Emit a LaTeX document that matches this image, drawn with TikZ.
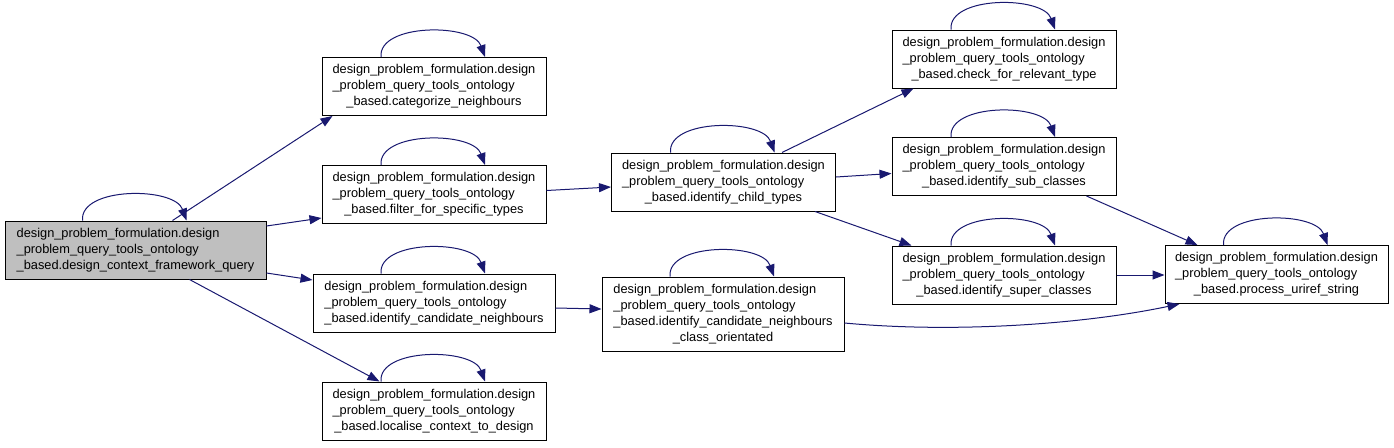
\documentclass[tikz,border=0pt]{standalone}
\usepackage{fontspec}
\setmainfont{Liberation Sans}
\usetikzlibrary{arrows.meta}
\definecolor{edgeblue}{RGB}{25,25,112}
\definecolor{rootgray}{RGB}{191,191,191}
\newcommand\threelines[3]{\begin{tabular}{@{}l@{}}#1\\#2\\\multicolumn{1}{@{}c@{}}{#3}\end{tabular}}
\newcommand\fourlines[4]{\begin{tabular}{@{}l@{}}#1\\#2\\#3\\\multicolumn{1}{@{}c@{}}{#4}\end{tabular}}
\newcommand\myloop[1]{\draw[edge] ([xshift=-53pt]#1.north) .. controls +(-3pt,34pt) and +(-12pt,34pt) .. ([xshift=51pt]#1.north);}
\tikzset{
  box/.style={draw=black, line width=1pt, inner sep=0pt, fill=white,
    minimum width=224pt, minimum height=58pt, anchor=center,
    font=\fontsize{12.8}{16}\selectfont, text=black},
  rootbox/.style={box, fill=rootgray, minimum width=261pt},
  edge/.style={draw=edgeblue, line width=1pt, -{Triangle[length=12pt,width=9pt]}}
}
\begin{document}
\begin{tikzpicture}[x=1pt,y=1pt]
\useasboundingbox (0,0) rectangle (1394,-447);
\node[rootbox] (root) at (135.5,-250) {\threelines{design\_problem\_formulation.design}{\_problem\_query\_tools\_ontology}{\_based.design\_context\_framework\_query}};
\node[box] (cat) at (434,-86.5) {\threelines{design\_problem\_formulation.design}{\_problem\_query\_tools\_ontology}{\_based.categorize\_neighbours}};
\node[box] (filter) at (434,-194.5) {\threelines{design\_problem\_formulation.design}{\_problem\_query\_tools\_ontology}{\_based.filter\_for\_specific\_types}};
\node[box, minimum width=242pt] (cand) at (434,-303) {\threelines{design\_problem\_formulation.design}{\_problem\_query\_tools\_ontology}{\_based.identify\_candidate\_neighbours}};
\node[box] (local) at (434,-411) {\threelines{design\_problem\_formulation.design}{\_problem\_query\_tools\_ontology}{\_based.localise\_context\_to\_design}};
\node[box] (child) at (723.5,-182) {\threelines{design\_problem\_formulation.design}{\_problem\_query\_tools\_ontology}{\_based.identify\_child\_types}};
\node[box, minimum width=242pt, minimum height=74pt] (classo) at (723,-314) {\fourlines{design\_problem\_formulation.design}{\_problem\_query\_tools\_ontology}{\_based.identify\_candidate\_neighbours}{\_class\_orientated}};
\node[box] (check) at (1004,-59) {\threelines{design\_problem\_formulation.design}{\_problem\_query\_tools\_ontology}{\_based.check\_for\_relevant\_type}};
\node[box] (sub) at (1004,-166.5) {\threelines{design\_problem\_formulation.design}{\_problem\_query\_tools\_ontology}{\_based.identify\_sub\_classes}};
\node[box] (super) at (1004,-275) {\threelines{design\_problem\_formulation.design}{\_problem\_query\_tools\_ontology}{\_based.identify\_super\_classes}};
\node[box, minimum width=223pt] (process) at (1276.5,-274.5) {\threelines{design\_problem\_formulation.design}{\_problem\_query\_tools\_ontology}{\_based.process\_uriref\_string}};
% self loops
\myloop{root}
\myloop{cat}
\myloop{filter}
\myloop{cand}
\myloop{local}
\myloop{child}
\myloop{classo}
\myloop{check}
\myloop{sub}
\myloop{super}
\myloop{process}
% edges
\draw[edge] ([xshift=168pt]root.north west) -- ([xshift=11pt]cat.south west);
\draw[edge] ([yshift=24pt]root.east) -- ([yshift=-23.5pt]filter.west);
\draw[edge] ([yshift=-23pt]root.east) -- ([yshift=23pt]cand.west);
\draw[edge] ([xshift=185pt]root.south west) -- ([xshift=58pt]local.north west);
\draw[edge] ([yshift=4pt]filter.east) -- ([yshift=-5pt]child.west);
\draw[edge] ([yshift=-5pt]cand.east) -- ([yshift=5pt]classo.west);
\draw[edge] ([xshift=171pt]child.north west) -- ([xshift=22pt]check.south west);
\draw[edge] ([yshift=5pt]child.east) -- ([yshift=-7pt]sub.west);
\draw[edge] ([xshift=204pt]child.south west) -- ([xshift=20pt]super.north west);
\draw[edge] ([xshift=195pt]sub.south west) -- ([xshift=33pt]process.north west);
\draw[edge] (super.east) -- (super.east -| process.west);
\draw[edge] ([yshift=-9pt]classo.east) .. controls +(106pt,-10pt) and +(-100pt,-21pt) .. ([xshift=15pt]process.south west);
\end{tikzpicture}
\end{document}
